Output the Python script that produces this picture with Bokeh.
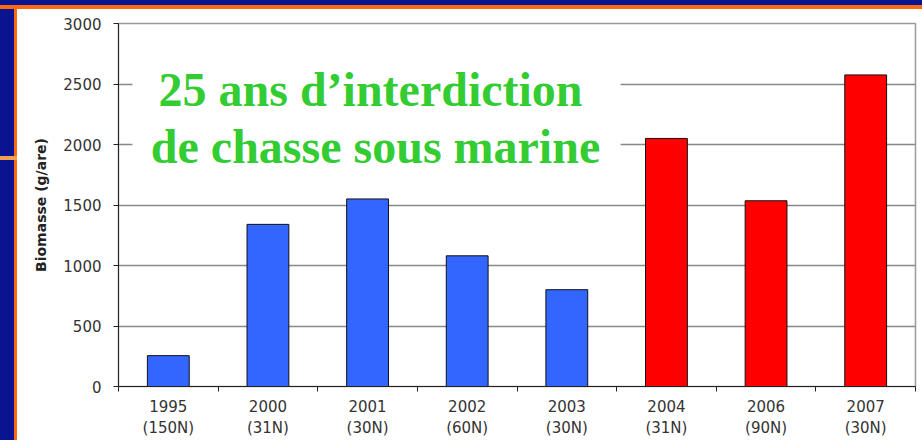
from bokeh.plotting import figure
from bokeh.models import Range1d, FixedTicker, BoxAnnotation, Label, Div
from bokeh.layouts import row, column
from bokeh.embed import file_html
from bokeh.resources import INLINE

# ---- data ----
years = ["1995", "2000", "2001", "2002", "2003", "2004", "2006", "2007"]
samples = ["150N", "31N", "30N", "60N", "30N", "31N", "90N", "30N"]
biomass = [255, 1340, 1550, 1080, 800, 2050, 1535, 2575]
protected_25y = [False, False, False, False, False, True, True, True]
y_ticks = [0, 500, 1000, 1500, 2000, 2500, 3000]
y_title = "Biomasse (g/are)"
title_lines = ["25 ans d\u2019interdiction", "de chasse sous marine"]

BLUE = "#3366ff"
RED = "#ff0000"
NAVY = "#0a1490"
ORANGE = "#ff6a10"

n = len(years)
centers = [i + 0.5 for i in range(n)]
bounds = list(range(n + 1))
colors = [RED if f else BLUE for f in protected_25y]

p = figure(width=905, height=431, output_backend="svg", toolbar_location=None,
           x_range=Range1d(0, n), y_range=Range1d(0, 3000),
           min_border_left=101, min_border_right=7, min_border_top=14, min_border_bottom=54,
           margin=(0, 0, 0, 0))
p.background_fill_color = "white"
p.border_fill_color = "white"
p.outline_line_color = "#9a9a9a"
p.outline_line_width = 1.5

p.vbar(x=centers, top=biomass, width=0.42, fill_color=colors, line_color="#111111", line_width=1)

# grid
p.xgrid.visible = False
p.ygrid.ticker = FixedTicker(ticks=y_ticks)
p.ygrid.grid_line_color = "#888888"
p.ygrid.grid_line_width = 1.5

# y axis
ya = p.yaxis[0]
ya.ticker = FixedTicker(ticks=y_ticks)
ya.axis_line_color = "#222222"
ya.major_tick_line_color = "#222222"
ya.major_tick_out = 5
ya.major_tick_in = 0
ya.minor_tick_line_color = None
ya.major_label_text_font = "DejaVu Sans"
ya.major_label_text_font_size = "15px"
ya.major_label_text_color = "#333333"
ya.major_label_standoff = 12
ya.axis_label = y_title
ya.axis_label_text_font = "DejaVu Sans"
ya.axis_label_text_font_style = "bold"
ya.axis_label_text_font_size = "14px"
ya.axis_label_text_color = "#222222"
ya.axis_label_standoff = 11

# x axis
xa = p.xaxis[0]
xa.ticker = FixedTicker(ticks=centers, minor_ticks=bounds)
xa.major_label_overrides = {c: f"{y}\n({s})" for c, y, s in zip(centers, years, samples)}
xa.axis_line_color = "#222222"
xa.major_tick_line_color = None
xa.major_tick_out = 0
xa.major_tick_in = 0
xa.minor_tick_line_color = "#222222"
xa.minor_tick_out = 5
xa.minor_tick_in = 0
xa.major_label_text_font = "DejaVu Sans"
xa.major_label_text_font_size = "15px"
xa.major_label_text_color = "#333333"
xa.major_label_text_line_height = 1.2
xa.major_label_standoff = 6

# white box behind the slide title
p.add_layout(BoxAnnotation(left=0.14, right=5.04, top=2680, bottom=1745,
                           fill_color="white", fill_alpha=1.0, line_color=None))
p.add_layout(Label(x=2.53, y=2456, text=title_lines[0], text_align="center",
                   text_baseline="alphabetic", text_font="Liberation Serif",
                   text_font_style="bold", text_font_size="48px", text_color="#33cc33"))
p.add_layout(Label(x=2.58, y=1985, text=title_lines[1], text_align="center",
                   text_baseline="alphabetic", text_font="Liberation Serif",
                   text_font_style="bold", text_font_size="48px", text_color="#33cc33"))

# slide frame (navy background with orange border)
top_band = Div(width=922, height=9, margin=(0, 0, 0, 0),
               styles={"background": f"linear-gradient(to bottom, {NAVY} 0px, {NAVY} 5px, {ORANGE} 5px, {ORANGE} 9px)"})
left_band = Div(width=17, height=431, margin=(0, 0, 0, 0),
                styles={"background": f"linear-gradient(to bottom, transparent 147px, #f0a050 147px, #f0a050 151px, transparent 151px), "
                                      f"linear-gradient(to right, {NAVY} 0px, {NAVY} 14px, {ORANGE} 14px, {ORANGE} 17px)"})

layout = column(top_band, row(left_band, p, margin=(0, 0, 0, 0)), margin=(0, 0, 0, 0))
open("out.html", "w").write(file_html(layout, INLINE))
